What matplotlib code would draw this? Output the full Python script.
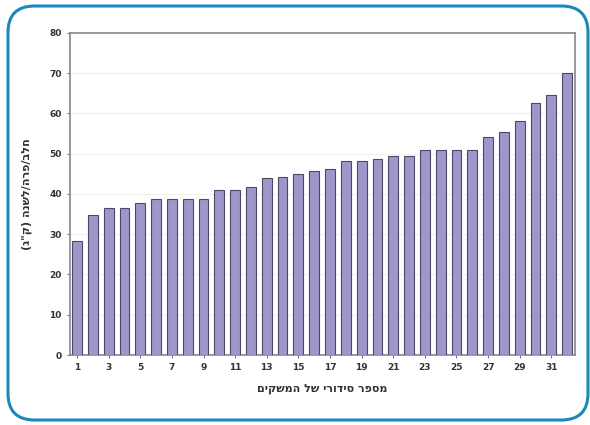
import matplotlib
matplotlib.use("Agg")
import matplotlib.pyplot as plt
from matplotlib.patches import FancyBboxPatch

# data
farm_no = list(range(1, 33))
values = [28.3, 34.8, 36.5, 36.5, 37.8, 38.8, 38.8, 38.8, 38.8, 41.0, 41.0, 41.7,
          44.0, 44.3, 45.0, 45.6, 46.2, 48.3, 48.3, 48.7, 49.5, 49.5, 50.9, 50.9,
          50.9, 50.9, 54.1, 55.5, 58.1, 62.7, 64.6, 70.0]
xtick_pos = list(range(1, 32, 2))
yticks = list(range(0, 81, 10))

# hebrew written in visual order (matplotlib has no bidi)
xlabel = 'םיקשמה לש ירודיס רפסמ'
ylabel = '(ג"ק) הנשל/הרפ/בלח'

fig = plt.figure(figsize=(5.9, 4.25), dpi=100)
ax = fig.add_axes([0.1186, 0.1647, 0.856, 0.7577])

ax.bar(farm_no, values, width=0.62, color='#9d98c9', edgecolor='#4b4868', linewidth=0.8, zorder=3)

ax.set_xlim(0.55, 32.5)
ax.set_ylim(0, 80)
ax.set_yticks(yticks)
ax.set_xticks(xtick_pos)
ax.tick_params(axis='both', labelsize=6.5, length=2.5, color='#777777')
for t in ax.get_xticklabels() + ax.get_yticklabels():
    t.set_fontweight('bold')
    t.set_color('#333333')
ax.yaxis.grid(True, color='#f0f0f0', linewidth=0.8, zorder=0)
for s in ax.spines.values():
    s.set_color('#888888')
    s.set_linewidth(1.2)

ax.set_xlabel(xlabel, fontsize=8, fontweight='bold', color='#333333', labelpad=8)
ax.set_ylabel(ylabel, fontsize=8, fontweight='bold', color='#333333', labelpad=12)

# rounded frame around the whole figure
frame = FancyBboxPatch((8 / 590, 5 / 425), 580 / 590, 414 / 425,
                       boxstyle='round,pad=0,rounding_size=0.045',
                       transform=fig.transFigure, fill=False,
                       edgecolor='#1a88b8', linewidth=2.2, mutation_aspect=590 / 425)
fig.patches.append(frame)

fig.savefig('out.png', dpi=100)
